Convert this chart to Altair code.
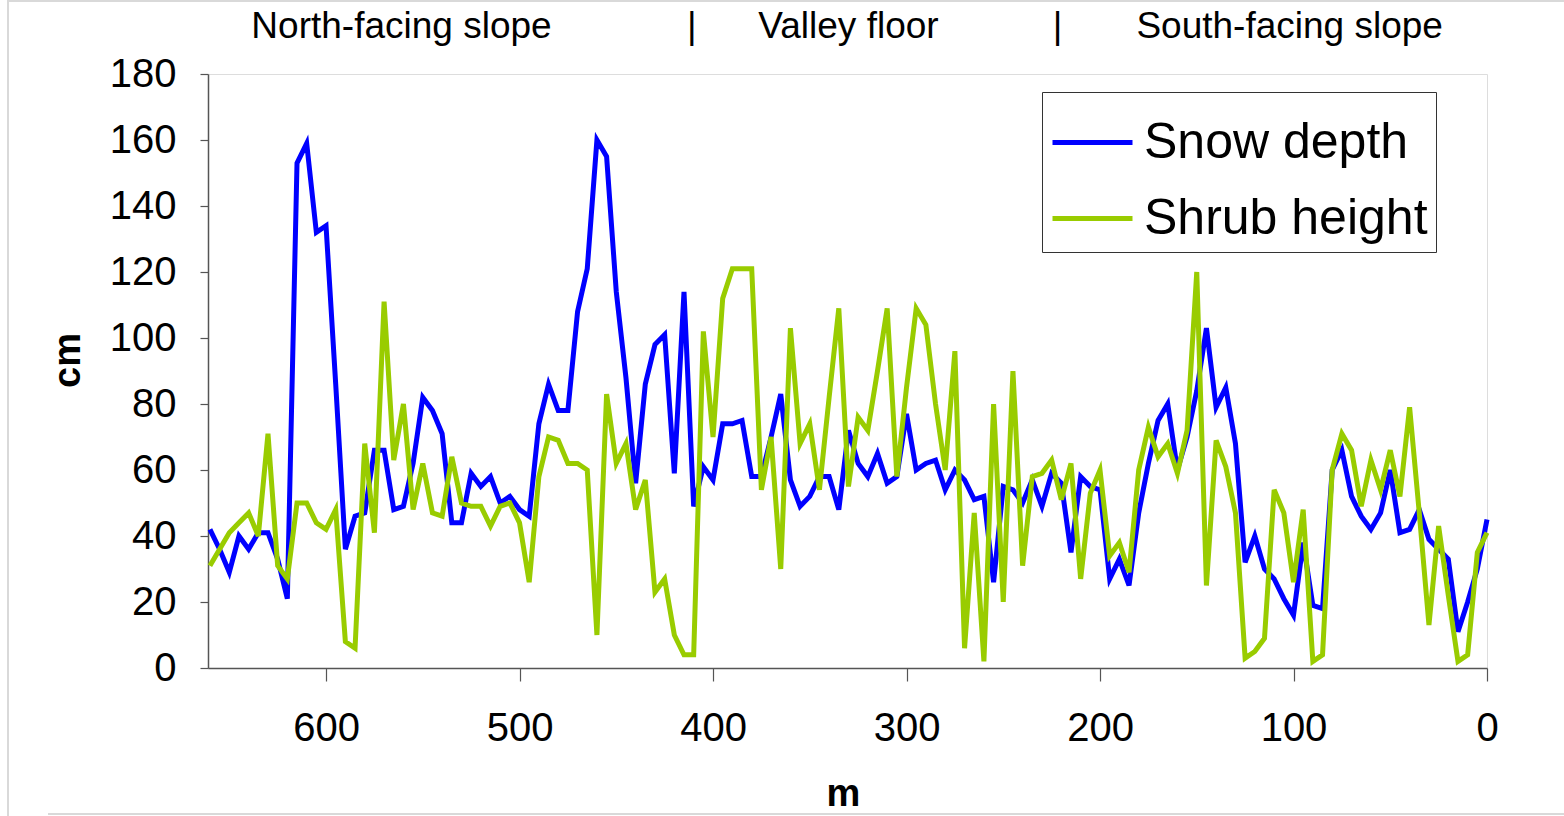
import altair as alt
import pandas as pd

# distance along transect (m), one reading every 5 m, 660 -> 0
distance_m = list(range(660, -1, -5))

snow_depth = [
    42, 36, 29, 40, 36, 41, 41, 33, 21, 153,
    159, 132, 134, 86, 36, 46, 47, 66, 66, 48,
    49, 62, 82, 78, 71, 44, 44, 59, 55, 58,
    50, 52, 48, 46, 74, 86, 78, 78, 108, 121,
    160, 155, 114, 88, 56, 86, 98, 101, 59, 114,
    49, 61, 57, 74, 74, 75, 58, 58, 70, 83,
    57, 49, 52, 58, 58, 48, 72, 62, 58, 65,
    56, 58, 77, 60, 62, 63, 54, 60, 57, 51,
    52, 26, 55, 54, 50, 57, 49, 59, 56, 35,
    58, 55, 54, 27, 33, 25, 47, 62, 75, 80,
    60, 70, 84, 103, 79, 85, 68, 32, 40, 30,
    27, 21, 16, 38, 19, 18, 60, 66, 52, 46,
    42, 47, 60, 41, 42, 48, 39, 36, 33, 11,
    20, 30, 45,
]

shrub_height = [
    31, 36, 41, 44, 47, 40, 71, 31, 27, 50,
    50, 44, 42, 48, 8, 6, 68, 41, 111, 63,
    80, 48, 62, 47, 46, 64, 50, 49, 49, 43,
    49, 50, 44, 26, 58, 70, 69, 62, 62, 60,
    10, 83, 62, 68, 48, 57, 23, 27, 10, 4,
    4, 102, 70, 112, 121, 121, 121, 54, 70, 30,
    103, 68, 74, 54, 82, 109, 55, 76, 72, 90,
    109, 58, 85, 109, 104, 80, 60, 96, 6, 47,
    2, 80, 20, 90, 31, 58, 59, 63, 51, 62,
    27, 53, 60, 34, 38, 29, 60, 73, 64, 68,
    59, 72, 120, 25, 69, 61, 47, 3, 5, 9,
    54, 47, 26, 48, 2, 4, 60, 71, 66, 49,
    63, 54, 66, 52, 79, 47, 13, 43, 22, 2,
    4, 35, 41,
]

series_names = ["Snow depth", "Shrub height"]
series_colors = ["#0000FF", "#99CC00"]

section_labels = ["North-facing slope", "|", "Valley floor", "|", "South-facing slope"]
section_pos_m = [561, 411, 330, 222, 102]

x_ticks = [0, 100, 200, 300, 400, 500, 600]
y_ticks = [0, 20, 40, 60, 80, 100, 120, 140, 160, 180]

FONT = "Liberation Sans"

snow_df = pd.DataFrame({"m": distance_m, "cm": snow_depth, "series": series_names[0]})
shrub_df = pd.DataFrame({"m": distance_m, "cm": shrub_height, "series": series_names[1]})
sec_df = pd.DataFrame({"m": section_pos_m, "label": section_labels})

x_scale = alt.Scale(domain=[0, 661], reverse=True, nice=False, zero=False)
y_scale = alt.Scale(domain=[0, 180], nice=False)

color = alt.Color(
    "series:N",
    scale=alt.Scale(domain=series_names, range=series_colors),
    legend=alt.Legend(
        title=None,
        orient="none",
        legendX=834,
        legendY=18,
        symbolType="stroke",
        symbolSize=6400,
        symbolStrokeWidth=5,
        labelFontSize=50,
        labelFont=FONT,
        labelColor="black",
        labelOffset=9,
        labelLimit=400,
        fillColor="white",
        strokeColor="#333333",
        padding=8,
        rowPadding=8,
    ),
)

x_enc = alt.X(
    "m:Q",
    scale=x_scale,
    axis=alt.Axis(
        values=x_ticks,
        title="m",
        titleFontSize=38,
        titleFontWeight="bold",
        titleFont=FONT,
        titleColor="black",
        titleX=635,
        titleY=137,
        titleAlign="center",
        titleBaseline="alphabetic",
        labelFontSize=40,
        labelFont=FONT,
        labelColor="black",
        labelPadding=27,
        tickSize=13,
        tickColor="#555555",
        domainColor="#555555",
        domainWidth=1.5,
        tickWidth=1.2,
        grid=False,
        labelFlush=False,
        labelOverlap=False,
    ),
)

y_enc = alt.Y(
    "cm:Q",
    scale=y_scale,
    axis=alt.Axis(
        values=y_ticks,
        title="cm",
        titleFontSize=38,
        titleFontWeight="bold",
        titleFont=FONT,
        titleColor="black",
        titleAngle=270,
        titleX=-140,
        titleY=286,
        titleAlign="center",
        titleBaseline="middle",
        labelFontSize=40,
        labelFont=FONT,
        labelColor="black",
        labelPadding=24,
        tickSize=8,
        tickColor="#555555",
        domainColor="#555555",
        domainWidth=1.5,
        tickWidth=1.2,
        grid=False,
        labelOverlap=False,
    ),
)

snow_line = alt.Chart(snow_df).mark_line(strokeWidth=5).encode(
    x=x_enc, y=y_enc, color=color
)
shrub_line = alt.Chart(shrub_df).mark_line(strokeWidth=5).encode(
    x=alt.X("m:Q", scale=x_scale), y=alt.Y("cm:Q", scale=y_scale), color=color
)

sections = alt.Chart(sec_df).mark_text(
    fontSize=37, font=FONT, color="black", baseline="middle", align="center"
).encode(
    x=alt.X("m:Q", scale=x_scale),
    y=alt.value(-47),
    text="label:N",
)

frame_color = "#d9d9d9"
frame_left = alt.Chart(sec_df).mark_rule(color=frame_color, strokeWidth=1.5).encode(
    x=alt.value(-200), y=alt.value(-74), y2=alt.value(742)
)
frame_top = alt.Chart(sec_df).mark_rule(color=frame_color, strokeWidth=2).encode(
    x=alt.value(-200), x2=alt.value(1356), y=alt.value(-73)
)
frame_bottom = alt.Chart(sec_df).mark_rule(color=frame_color, strokeWidth=2).encode(
    x=alt.value(-160), x2=alt.value(1356), y=alt.value(740)
)

chart = (
    alt.layer(frame_left, frame_top, frame_bottom, snow_line, shrub_line, sections)
    .properties(
        width=1279,
        height=594,
        padding={"left": 208, "top": 74, "right": 77, "bottom": 148},
        autosize=alt.AutoSizeParams(type="none"),
        background="white",
    )
    .configure_view(stroke="#444444", strokeWidth=2)
    .configure(font=FONT)
)

chart.save("out.html", embed_options={"renderer": "svg", "actions": False})
